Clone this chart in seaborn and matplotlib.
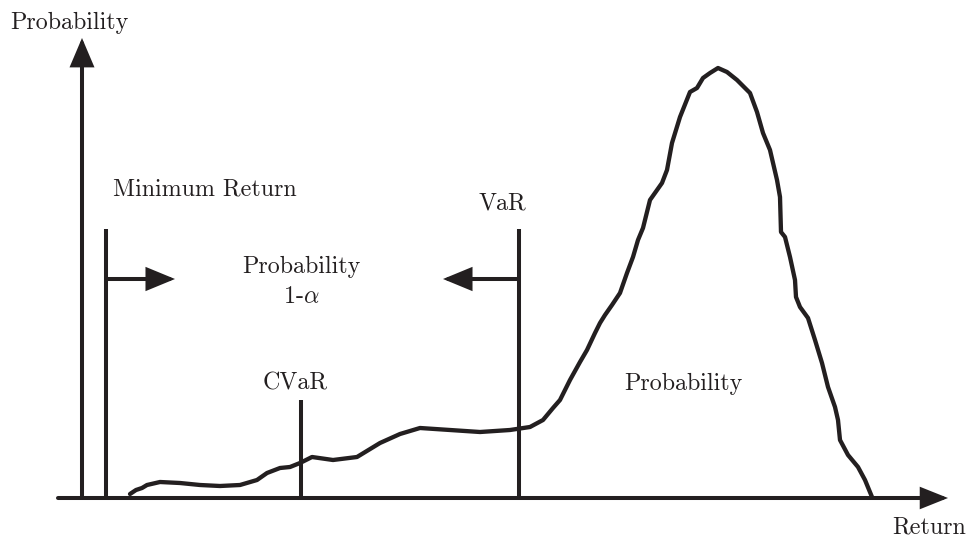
import numpy as np
import pandas as pd
import seaborn as sns
import matplotlib
matplotlib.use("Agg")
import matplotlib.pyplot as plt

# curve: return position vs probability height above the axis
curve_return = [130, 136, 142, 147, 160, 180, 200, 220, 240, 257, 267, 280, 290, 300, 312,
                333, 357, 380, 400, 420, 450, 480, 510, 530, 543, 553, 560, 570, 580, 587,
                595, 600, 605, 612, 620, 627, 633, 638, 643, 650, 662, 667, 672, 680, 690,
                697, 703, 710, 718, 727, 737, 750, 757, 763, 770, 777, 780, 781, 785, 790,
                795, 796, 800, 808, 815, 822, 828, 835, 838, 840, 848, 858, 865, 872]
curve_prob = [4, 8, 10, 13, 16, 15, 13, 12, 13, 18, 25, 30, 31, 35, 41,
              38, 41, 55, 64, 70, 68, 66, 68, 71, 78, 90, 98, 118, 136, 148,
              165, 175, 183, 193, 205, 225, 241, 258, 270, 298, 315, 328, 355, 381, 406,
              410, 420, 425, 430, 426, 418, 405, 386, 365, 348, 318, 301, 266, 261, 241,
              218, 201, 191, 180, 158, 135, 111, 91, 78, 58, 43, 31, 18, 1]

# vertical markers: minimum return, CVaR, VaR
marker_names = ["Minimum Return", "CVaR", "VaR"]
marker_returns = [106, 301, 519]
marker_tops = [269, 98, 269]

ink = "#231f20"

sns.set_style("white")
plt.rcParams["font.family"] = ["cmr10", "DejaVu Serif"]
plt.rcParams["mathtext.fontset"] = "cm"
plt.rcParams["axes.unicode_minus"] = False

fig = plt.figure(figsize=(9.67, 5.4), dpi=100)
ax = fig.add_axes([0, 0, 1, 1])
ax.set_xlim(0, 967)
ax.set_ylim(-42, 498)
ax.axis("off")

df = pd.DataFrame({"Return": curve_return, "Probability": curve_prob})
sns.lineplot(data=df, x="Return", y="Probability", sort=False, estimator=None,
             color=ink, lw=3.1, ax=ax, solid_joinstyle="round", solid_capstyle="round")

ax.vlines(marker_returns, 0, marker_tops, colors=ink, lw=2.9)

def arrow(x0, y0, x1, y1, hl, hw):
    ax.annotate("", xy=(x1, y1), xytext=(x0, y0),
                arrowprops=dict(arrowstyle="-|>,head_length=%.2f,head_width=%.2f" % (hl, hw),
                                mutation_scale=20, lw=2.9, color=ink,
                                shrinkA=0, shrinkB=0, joinstyle="miter"))

# axes
arrow(58, 0, 948, 0, 0.75, 0.3)
arrow(82, 0, 82, 460, 0.8, 0.34)
# range arrows
arrow(marker_returns[0], 219, 175, 219, 0.8, 0.33)
arrow(marker_returns[2], 219, 443, 219, 0.8, 0.33)

fs = 17.3
ax.text(10, 469, "Probability", ha="left", va="baseline", fontsize=fs, color=ink)
ax.text(929, -35, "Return", ha="center", va="baseline", fontsize=fs, color=ink)
ax.text(205, 303, "Minimum Return", ha="center", va="baseline", fontsize=fs, color=ink)
ax.text(502, 288, "VaR", ha="center", va="baseline", fontsize=fs, color=ink)
ax.text(301, 225, "Probability", ha="center", va="baseline", fontsize=fs, color=ink)
ax.text(301, 195, r"1-$\alpha$", ha="center", va="baseline", fontsize=fs, color=ink)
ax.text(295, 108, "CVaR", ha="center", va="baseline", fontsize=fs, color=ink)
ax.text(683, 108, "Probability", ha="center", va="baseline", fontsize=fs, color=ink)

fig.savefig("out.png", dpi=100)
